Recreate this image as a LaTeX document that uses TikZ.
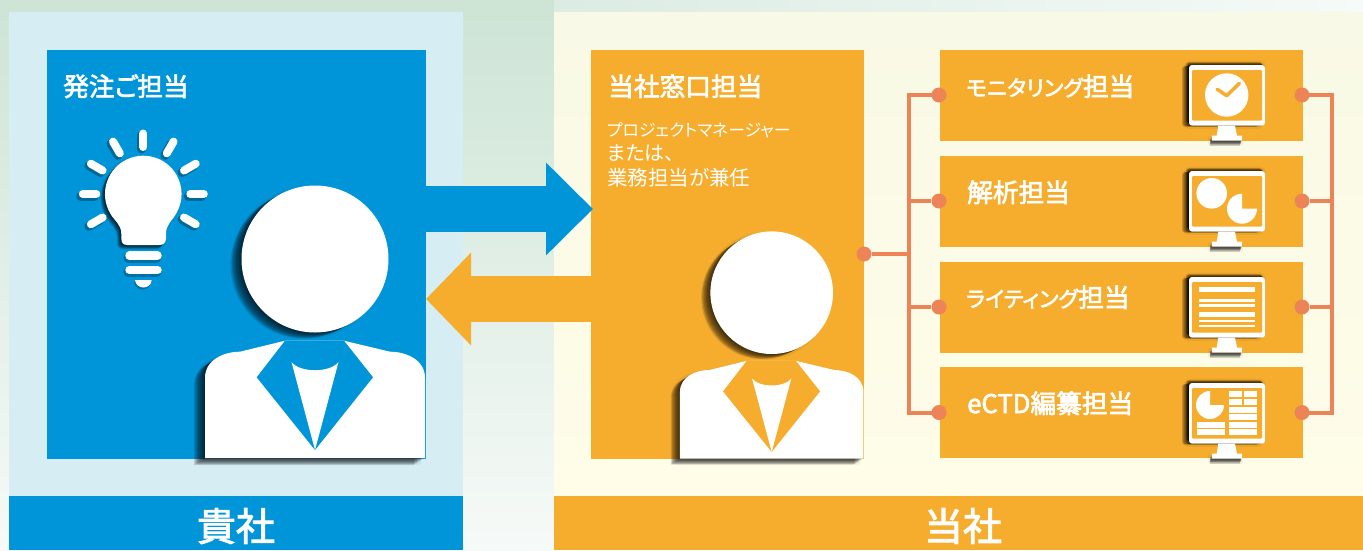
\documentclass[tikz,border=0pt]{standalone}
\usepackage{fontspec}
\setmainfont{Noto Sans CJK JP}
\newfontfamily\jpkana[RawFeature=+palt]{Noto Sans CJK JP}
\newfontfamily\jphead[FakeBold=2.5,RawFeature=+palt]{Noto Sans CJK JP}
\usetikzlibrary{arrows.meta}
\definecolor{ownblue}{HTML}{0095D9}
\definecolor{ownorange}{HTML}{F6AD2D}
\definecolor{linkred}{HTML}{EC8458}
\definecolor{bggreen}{HTML}{CDE4D5}
\definecolor{bgmid}{HTML}{DCECE2}
\definecolor{bgpale}{HTML}{F6FAF8}
\definecolor{ownpale}{HTML}{D6EDF4}
\definecolor{creamtop}{HTML}{F8F9E6}
\definecolor{creambot}{HTML}{FFFDE8}
\newcommand{\softshadow}[3]{
  \draw[black,opacity=.05,line width=5pt,line join=round,shift={(#1*.6,#2*.6)}] #3;
  \foreach \s in {.12,.25,.37,.5,.62,.75,.87,1}{
    \fill[black,opacity=.14,shift={(#1*\s,#2*\s)}] #3;
  }
}
\newcommand{\personicon}[1]{
  \softshadow{-11}{6}{(0,0) circle (73.5)}
  \softshadow{-11}{7}{(-110,199) -- (-110,119) .. controls (-110,100) and (-90,92.7) .. (-75,92.7) -- (-30,81.7) -- (29,81.7) -- (75,92.7) .. controls (90,92.7) and (110,100) .. (110,119) -- (110,199) -- cycle}
  \fill[white] (-110,199) -- (-110,119) .. controls (-110,100) and (-90,92.7) .. (-75,92.7) -- (-30,81.7) -- (29,81.7) -- (75,92.7) .. controls (90,92.7) and (110,100) .. (110,119) -- (110,199) -- cycle;
  \fill[#1] (-30,81.7) -- (-58.3,118.3) -- (0,191) -- (58,118.3) -- (29,81.7) -- cycle;
  \fill[white] (-23.5,103) .. controls (-15,114) and (15,114) .. (23.5,103) -- (0,191) -- cycle;
  \fill[white] (0,0) circle (73.5);
}
\newcommand{\monitorframe}{
  \softshadow{-7}{1}{[rounded corners=3] (0,0) rectangle (76,60.7)}
  \softshadow{-3}{-3}{[rounded corners=3] (0,0) rectangle (76,60.7)}
  \softshadow{-2}{5}{(22.7,70.7) rectangle (53,75.7)}
  \fill[white,rounded corners=3] (0,0) rectangle (76,60.7);
  \fill[ownorange,rounded corners=1] (3,5) rectangle (73,55.7);
  \fill[white] (29.3,60.7) -- (46,60.7) -- (48,70.7) -- (53,70.7) -- (53,75.7) -- (22.7,75.7) -- (22.7,70.7) -- (27.7,70.7) -- cycle;
}
\newcommand{\tantou}{{\fontsize{25.7}{25.7}\selectfont 担当}}
\begin{document}
\begin{tikzpicture}
  [x=1pt, y=-1pt,
  maintext/.style={font=\jphead\fontsize{25.7}{25.7}\selectfont,text=white,inner sep=0pt,anchor=base west},
  kanatext/.style={font=\jphead\fontsize{21.8}{25}\selectfont,text=white,inner sep=0pt,anchor=base west},
  subtext/.style={font=\jpkana\fontsize{#1}{#1}\selectfont,text=white,inner sep=0pt,anchor=base west},
  bandtext/.style={font=\jphead\fontsize{39}{39}\selectfont,text=white,inner sep=0pt},
  bluebox/.style={fill=ownblue,inner sep=0pt,outer sep=0pt},
  orangebox/.style={fill=ownorange,inner sep=0pt,outer sep=0pt},
  linkdot/.style={circle,fill=linkred,inner sep=0pt,minimum size=15pt},
  linkline/.style={linkred,line width=4pt,line join=miter},
  bigarrow/.style={line width=45.5pt,-{Triangle[length=#1,width=90pt]}}]
  \useasboundingbox (0,0) rectangle (1363,550);
  \shade[top color=bggreen,bottom color=bgpale] (0,0) rectangle (554,550);
  \shade[left color=bgmid,right color=bgpale] (554,0) rectangle (1363,12);

  \fill[ownpale] (9,12) rectangle (463,496);
  \shade[top color=creamtop,bottom color=creambot] (554,12) rectangle (1363,496);
  \node[bluebox,minimum width=454pt,minimum height=54pt] (10) at (236,523) {};
  \node[orangebox,minimum width=809pt,minimum height=54pt] (20) at (958.5,523) {};
  \node[bandtext] (11) at (236,526) {貴社};
  \node[bandtext] (21) at (963,526) {当社};

  \node[bluebox,minimum width=379pt,minimum height=409pt] (110) at (236.5,254.5) {};
  \node[orangebox,minimum width=273pt,minimum height=409pt] (210) at (727.5,254.5) {};
  \node[orangebox,minimum width=363pt,minimum height=91pt] (310) at (1121.5,95.5) {};
  \node[orangebox,minimum width=363pt,minimum height=91pt] (320) at (1121.5,201.5) {};
  \node[orangebox,minimum width=363pt,minimum height=91pt] (330) at (1121.5,307.5) {};
  \node[orangebox,minimum width=363pt,minimum height=91pt] (340) at (1121.5,412.5) {};

  \coordinate (a1) at (426,209);
  \coordinate (a2) at (593,209);
  \coordinate (b1) at (591,299);
  \coordinate (b2) at (426,299);
  \draw[bigarrow=47pt,ownblue] (a1) -- (a2);
  \draw[bigarrow=45pt,ownorange] (b1) -- (b2);

  \node[maintext] (111) at (63,96) {発注ご担当};
  \node[maintext] (211) at (608,96) {当社窓口担当};
  \node[subtext=16.8] (212) at (607,136) {プロジェクトマネージャー};
  \node[subtext=20] (213) at (607,160.5) {または、};
  \node[subtext=20.5] (214) at (607,185.5) {業務担当が兼任};
  \node[kanatext] (311) at (966,96) {モニタリング\tantou};
  \node[maintext] (321) at (967,202) {解析担当};
  \node[kanatext] (331) at (966,307) {ライティング\tantou};
  \node[maintext] (341) at (967,413) {eCTD編纂担当};

  \begin{scope}[shift={(143.3,194)}]
    \foreach \a in {0,30,150,180,210,240,270,300,330}{
      \draw[black,opacity=.3,line width=9pt,line cap=round,shift={(-2,2)}] (\a:47) -- (\a:60.5);
    }
    \softshadow{-4}{4}{(-33.2,19.15) arc[start angle=150,end angle=390,radius=38.3] .. controls (29,27) and (22.7,30) .. (22.7,40) -- (22.7,44) .. controls (22.7,49) and (20,51) .. (16,51) -- (-16,51) .. controls (-20,51) and (-22,49) .. (-22,44) -- (-22,40) .. controls (-22,30) and (-29,27) .. (-33.2,19.15) -- cycle}
    \fill[white] (-33.2,19.15) arc[start angle=150,end angle=390,radius=38.3] .. controls (29,27) and (22.7,30) .. (22.7,40) -- (22.7,44) .. controls (22.7,49) and (20,51) .. (16,51) -- (-16,51) .. controls (-20,51) and (-22,49) .. (-22,44) -- (-22,40) .. controls (-22,30) and (-29,27) .. (-33.2,19.15) -- cycle;
    \foreach \a in {0,30,150,180,210,240,270,300,330}{
      \draw[white,line width=8pt,line cap=round] (\a:47) -- (\a:60.5);
    }
    \foreach \y in {61.7,76}{
      \draw[black,opacity=.25,line width=10pt,line cap=round] (-15,\y+2) -- (13,\y+2);
      \draw[white,line width=8.5pt,line cap=round] (-13.8,\y) -- (14.2,\y);
    }
    \fill[black,opacity=.25,shift={(-1,2)}] (-8.3,86) .. controls (-7,96) and (7.4,96) .. (8.4,86) -- cycle;
    \fill[white] (-8.3,86) .. controls (-7,96) and (7.4,96) .. (8.4,86) -- cycle;
  \end{scope}

  \begin{scope}[shift={(315,259)}]
    \personicon{ownblue}
  \end{scope}
  \begin{scope}[shift={(771.7,292.7)},scale=.834]
    \personicon{ownorange}
  \end{scope}

  \begin{scope}[shift={(1189,65)}]
    \monitorframe
    \fill[white] (37.7,30) circle (21.7);
    \draw[ownorange,line width=3.5pt,line cap=round,line join=round] (28.3,24.3) -- (37.7,30.7) -- (50.3,18.3);
  \end{scope}
  \begin{scope}[shift={(1189,171)}]
    \monitorframe
    \fill[white] (22.7,22.3) circle (15.3);
    \fill[white] (53,37.7) -- (68,37.7) arc[start angle=0,end angle=270,radius=15] -- cycle;
  \end{scope}
  \begin{scope}[shift={(1189,277)}]
    \monitorframe
    \foreach \ya/\yb in {9.7/14.7,22.3/25.3,27.3/30,34.7/40.3,42.7/45.3,47.7/50.3}{
      \fill[white] (10,\ya) rectangle (66,\yb);
    }
  \end{scope}
  \begin{scope}[shift={(1189,383)}]
    \monitorframe
    \fill[white] (21,22) -- (35,22) arc[start angle=0,end angle=270,radius=14] -- cycle;
    \foreach \xa/\xb/\ya/\yb in {40/53/8/14,55/68/8/14,40/53/16/22,55/68/16/22,40/68/24/30,40/68/31/37,40/68/39/45,40/68/46/52,8/36/39/45,8/36/46/52}{
      \fill[white] (\xa,\ya) rectangle (\xb,\yb);
    }
  \end{scope}

  \coordinate (jl) at (909,254);
  \coordinate (jr) at (1332,254);
  \node[linkdot] (41) at (864,254) {};
  \node[linkdot] (51) at (939,95) {};
  \node[linkdot] (52) at (939,201) {};
  \node[linkdot] (53) at (939,307) {};
  \node[linkdot] (54) at (939,412.5) {};
  \node[linkdot] (61) at (1302,95) {};
  \node[linkdot] (62) at (1302,201) {};
  \node[linkdot] (63) at (1302,307) {};
  \node[linkdot] (64) at (1302,412.5) {};

  \draw[linkline] (41) -- (jl);
  \draw[linkline] (51.center) -| (jl) |- (54.center);
  \draw[linkline] (52) -- (52 -| jl);
  \draw[linkline] (53) -- (53 -| jl);
  \draw[linkline] (61.center) -| (jr) |- (64.center);
  \draw[linkline] (62) -- (62 -| jr);
  \draw[linkline] (63) -- (63 -| jr);
\end{tikzpicture}
\end{document}
